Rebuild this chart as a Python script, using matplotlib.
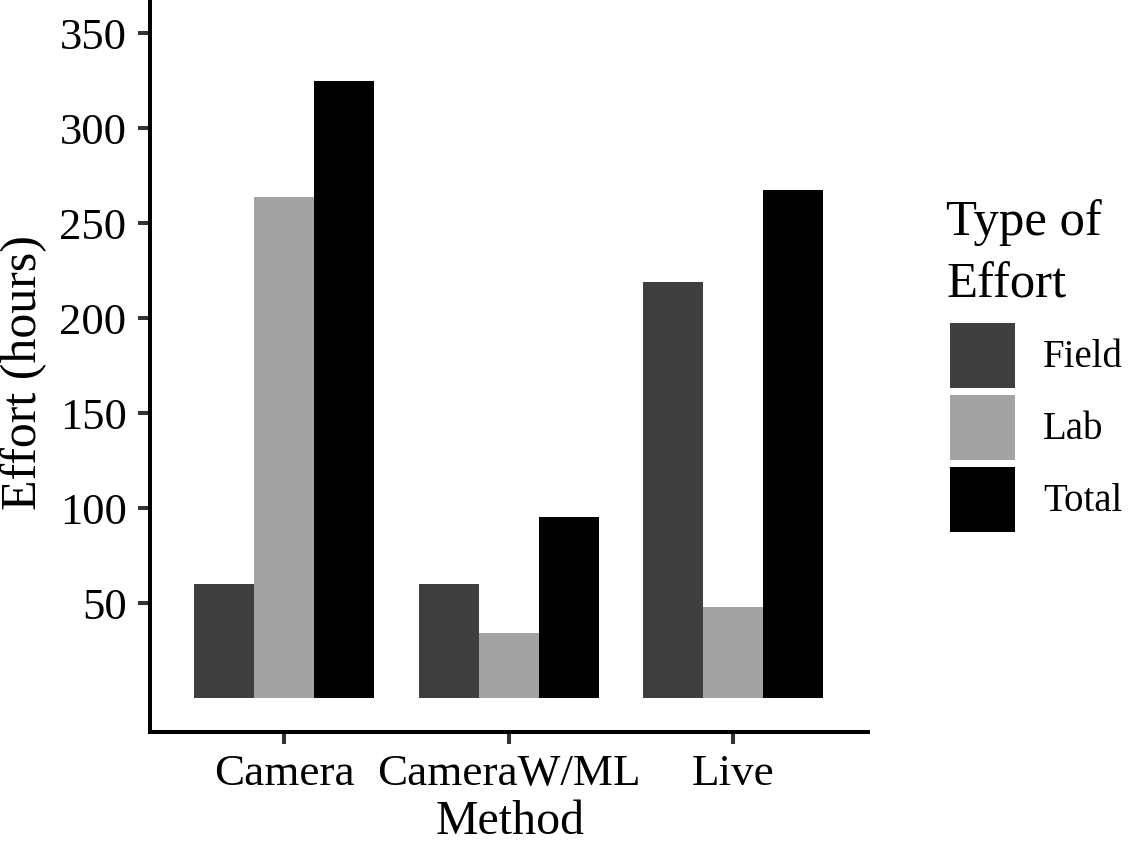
import matplotlib
matplotlib.use("Agg")
import matplotlib.pyplot as plt
from matplotlib.patches import Rectangle
import numpy as np

methods = ["Camera", "CameraW/ML", "Live"]
effort_types = ["Field", "Lab", "Total"]
field = [60, 60, 219]
lab = [264, 34.5, 48]
total = [325, 95.5, 267.5]
yticks = [50, 100, 150, 200, 250, 300, 350]
colors = ["#3f3f3f", "#a3a3a3", "#000000"]

plt.rcParams['font.family'] = ['Liberation Serif', 'DejaVu Serif']

W, H = 1129, 844
fig = plt.figure(figsize=(W / 100, H / 100), dpi=100)
ax = fig.add_axes([149.5 / W, 1 - 732 / H, (868 - 149.5) / W, 732 / H])

x = np.arange(1, len(methods) + 1)
bw = 0.8 / 3
series = [field, lab, total]
for i, (vals, c) in enumerate(zip(series, colors)):
    ax.bar(x + (i - 1) * bw, vals, width=bw, color=c, linewidth=0)

ax.set_xlim(0.4, 3.6)
ax.set_ylim(-17.7, 367.5)
ax.set_xticks(x)
ax.set_xticklabels(methods)
ax.set_yticks(yticks)
ax.tick_params(axis='both', length=8.5, width=2.9, color='#333333')
ax.tick_params(axis='x', labelsize=32.5, pad=7)
ax.tick_params(axis='y', labelsize=32, pad=8)
for s in ['top', 'right']:
    ax.spines[s].set_visible(False)
for s in ['left', 'bottom']:
    ax.spines[s].set_linewidth(2.9)
    ax.spines[s].set_color('black')

ax.set_xlabel("Method", fontsize=34.5)
ax.xaxis.label.set_va('baseline')
ax.xaxis.set_label_coords((510 - 149.5) / 718.5, (732 - 834) / 732)
ax.set_ylabel("Effort (hours)", fontsize=36)
ax.yaxis.label.set_va('center')
ax.yaxis.set_label_coords((24 - 149.5) / 718.5, (732 - 372) / 732)

# legend drawn manually
fig.text(946 / W, 1 - 235 / H, "Type of", fontsize=36.5, ha='left', va='baseline')
fig.text(946 / W, 1 - 297 / H, "Effort", fontsize=36.5, ha='left', va='baseline')
key_top = 323
key_h = 65
gap = 7
for i, (lab_name, c) in enumerate(zip(effort_types, colors)):
    y0 = key_top + i * (key_h + gap)
    fig.patches.append(Rectangle((950 / W, 1 - (y0 + key_h) / H), 65 / W, key_h / H,
                                 transform=fig.transFigure, color=c, linewidth=0))
    fig.text(1043 / W, 1 - (y0 + key_h / 2 + 2) / H, lab_name, fontsize=28,
             ha='left', va='center')

fig.savefig("out.png", dpi=100)
